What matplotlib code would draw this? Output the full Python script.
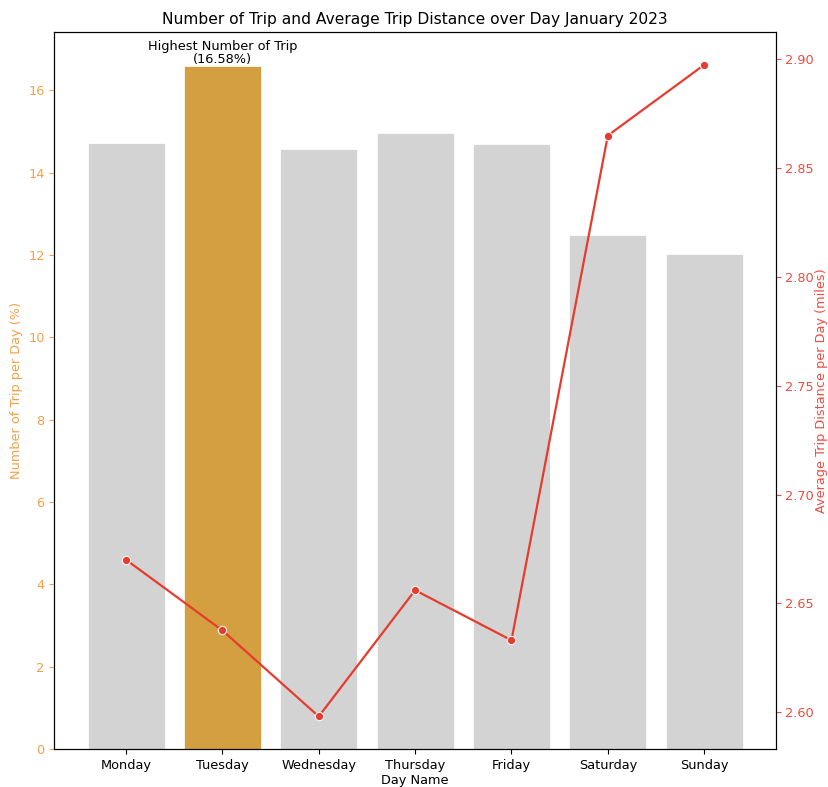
import matplotlib
matplotlib.use("Agg")
import matplotlib.pyplot as plt
import numpy as np

days = ["Monday", "Tuesday", "Wednesday", "Thursday", "Friday", "Saturday", "Sunday"]
trip_pct = [14.71, 16.58, 14.58, 14.97, 14.69, 12.48, 12.03]
avg_dist = [2.670, 2.6375, 2.598, 2.656, 2.633, 2.865, 2.8975]

bar_grey = "#D3D3D3"
bar_hi = "#D49F40"
orange = "#F5A04A"
red_line = "#E63C2E"
red_text = "#F04B40"

fs = 9.3
plt.rcParams["font.size"] = fs

fig = plt.figure(figsize=(8.29, 7.87), dpi=100)
ax = fig.add_axes([0.0655, 0.0483, 0.8705, 0.9107])

x = np.arange(len(days))
hi = int(np.argmax(trip_pct))
colors = [bar_hi if i == hi else bar_grey for i in range(len(days))]
ax.bar(x, trip_pct, width=0.8, color=colors, edgecolor="white", linewidth=0.5)
ax.set_ylim(0, max(trip_pct) * 1.05)
ax.set_xlim(-0.745, 6.745)
ax.set_xticks(x)
ax.set_xticklabels(days, fontsize=fs)
ax.set_xlabel("Day Name", fontsize=fs, labelpad=2)
ax.set_ylabel("Number of Trip per Day (%)", color=orange, fontsize=fs)
ax.tick_params(axis="y", colors=orange, labelsize=fs)
ax.tick_params(axis="x", labelsize=fs)

ax.text(hi, trip_pct[hi], f"Highest Number of Trip\n({trip_pct[hi]:.2f}%)",
        ha="center", va="bottom", fontsize=fs, linespacing=1.0)

ax2 = ax.twinx()
ax2.plot(x, avg_dist, color=red_line, linewidth=1.6, marker="o", markersize=6,
         markeredgecolor="white", markeredgewidth=0.75)
lo, hi_v = min(avg_dist), max(avg_dist)
m = (hi_v - lo) * 0.05
ax2.set_ylim(lo - m, hi_v + m)
ax2.set_ylabel("Average Trip Distance per Day (miles)", color=red_text, fontsize=fs,
               labelpad=1)
ax2.tick_params(axis="y", colors=red_text, labelsize=fs, pad=3)
ax2.set_yticks([2.60, 2.65, 2.70, 2.75, 2.80, 2.85, 2.90])

ax.set_title("Number of Trip and Average Trip Distance over Day January 2023", fontsize=11.2)

fig.savefig("out.png", dpi=100)
